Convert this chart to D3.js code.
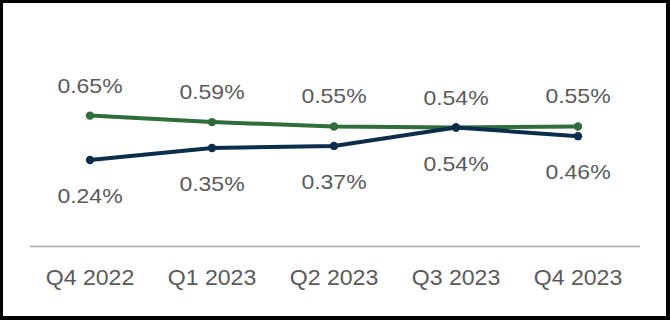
<!DOCTYPE html>
<html>
<head>
  <meta charset="utf-8">
  <script src="https://d3js.org/d3.v7.min.js"></script>
  <style>
    body { margin: 0; background: #fff; }
    .lbl { font-family: "Liberation Sans", Arial, sans-serif; font-size: 20px; fill: #5a5a5a; }
    .xlab { font-size: 22px; }
  </style>
</head>
<body>

<script>
  var width = 670,
      height = 320;

  // data
  var quarters = ["Q4 2022", "Q1 2023", "Q2 2023", "Q3 2023", "Q4 2023"];
  var greenValues = [0.65, 0.59, 0.55, 0.54, 0.55];
  var navyValues = [0.24, 0.35, 0.37, 0.54, 0.46];

  var svg = d3.select("body")
      .append("svg")
      .attr("width", width)
      .attr("height", height);

  // frame
  svg.append("rect")
      .attr("x", 0).attr("y", 0)
      .attr("width", width).attr("height", height)
      .attr("fill", "#000");
  svg.append("rect")
      .attr("x", 3).attr("y", 3)
      .attr("width", 663).attr("height", 313)
      .attr("fill", "#fff");

  var x = d3.scalePoint()
      .domain(quarters)
      .range([90, 578]);

  var y = d3.scaleLinear()
      .domain([0.2, 0.7])
      .range([164.3, 110.2]);

  // axis baseline
  svg.append("line")
      .attr("x1", 30).attr("x2", 640)
      .attr("y1", 246.5).attr("y2", 246.5)
      .attr("stroke", "#a6a6a6")
      .attr("stroke-width", 1.5);

  svg.selectAll(".xlab")
      .data(quarters)
      .enter().append("text")
      .attr("class", "lbl xlab")
      .attr("text-anchor", "middle")
      .attr("transform", function(d) { return "translate(" + x(d) + ",284.5) scale(1.05,1)"; })
      .text(function(d) { return d; });

  function drawSeries(values, color, dy) {
    var pts = values.map(function(v, i) { return { q: quarters[i], v: v }; });

    svg.append("path")
        .datum(pts)
        .attr("fill", "none")
        .attr("stroke", color)
        .attr("stroke-width", 4)
        .attr("stroke-linejoin", "round")
        .attr("d", d3.line()
          .x(function(d) { return x(d.q); })
          .y(function(d) { return y(d.v); }));

    svg.selectAll(null)
        .data(pts)
        .enter().append("circle")
        .attr("r", 4.2)
        .attr("fill", color)
        .attr("cx", function(d) { return x(d.q); })
        .attr("cy", function(d) { return y(d.v); });

    svg.selectAll(null)
        .data(pts)
        .enter().append("text")
        .attr("class", "lbl")
        .attr("text-anchor", "middle")
        .attr("transform", function(d) {
          return "translate(" + x(d.q) + "," + (y(d.v) + dy) + ") scale(1.15,1)";
        })
        .text(function(d) { return d.v.toFixed(2) + "%"; });
  }

  drawSeries(greenValues, "#2f6e3a", -23);
  drawSeries(navyValues, "#0c2e4c", 43);
</script>

</body>
</html>
